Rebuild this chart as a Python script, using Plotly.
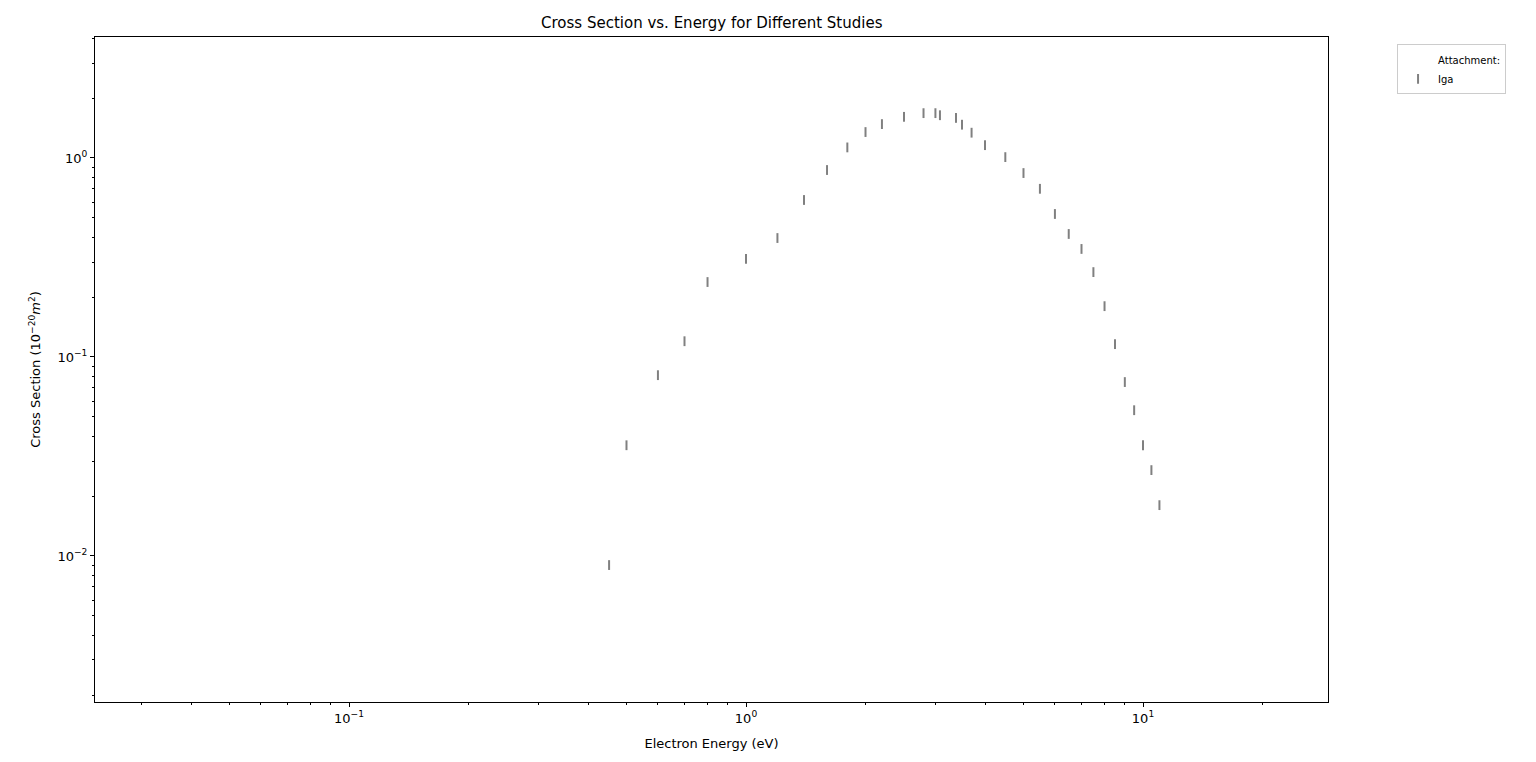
import plotly.graph_objects as go

# ----------------------------
# Dades (Iga, attachment)
# ----------------------------
energia = [0.452, 0.50, 0.60, 0.70, 0.80, 1.0, 1.2, 1.4, 1.6, 1.8, 2.0, 2.2, 2.5, 2.8,
           3.0, 3.08, 3.38, 3.5, 3.7, 4.0, 4.5, 5.0, 5.5, 6.0, 6.5, 7.0, 7.5, 8.0,
           8.5, 9.0, 9.5, 10.0, 10.5, 11.0]
seccio = [0.0090, 0.036, 0.081, 0.12, 0.238, 0.311, 0.396, 0.615, 0.87, 1.13, 1.35, 1.48,
          1.61, 1.68, 1.68, 1.64, 1.59, 1.47, 1.34, 1.16, 1.01, 0.84, 0.70, 0.523, 0.415,
          0.349, 0.267, 0.180, 0.116, 0.0748, 0.054, 0.036, 0.027, 0.018]

x_ticks = [0.1, 1, 10]
x_ticktext = ["10<sup>−1</sup>", "10<sup>0</sup>", "10<sup>1</sup>"]
y_ticks = [0.01, 0.1, 1]
y_ticktext = ["10<sup>−2</sup>", "10<sup>−1</sup>", "10<sup>0</sup>"]

x_minor = [m * 10 ** e for e in (-2, -1, 0, 1) for m in range(2, 10)]
y_minor = [m * 10 ** e for e in (-3, -2, -1, 0) for m in range(2, 10)]

fig = go.Figure()

# entrada de llegenda sense marcador
fig.add_trace(go.Scatter(x=[None], y=[None], mode="markers", name="Attachment:",
                         marker=dict(color="rgba(0,0,0,0)", size=1)))
fig.add_trace(go.Scatter(x=energia, y=seccio, mode="markers", name="Iga",
                         marker=dict(symbol="line-ns", size=7,
                                     line=dict(color="#808080", width=2))))

eix = dict(type="log", showline=True, linecolor="black", linewidth=1, mirror=True,
           ticks="outside", ticklen=4, tickcolor="black", showgrid=False, zeroline=False,
           automargin=False, tickfont=dict(size=13, color="black"))

fig.update_layout(
    width=1520, height=746,
    font=dict(family="DejaVu Sans", color="black"),
    paper_bgcolor="white", plot_bgcolor="white",
    margin=dict(l=87, r=200, t=29, b=52),
    title=dict(text="Cross Section vs. Energy for Different Studies", x=0.463, xanchor="center",
               y=0.980, yanchor="middle", font=dict(size=15)),
    xaxis=dict(eix, range=[-1.6398, 1.466], tickmode="array", tickvals=x_ticks,
               ticktext=x_ticktext,
               minor=dict(tickmode="array", tickvals=x_minor, ticks="outside", ticklen=2,
                          tickcolor="black", showgrid=False),
               title=dict(text="Electron Energy (eV)", font=dict(size=13), standoff=14)),
    yaxis=dict(eix, range=[-2.734, 0.608], tickmode="array", tickvals=y_ticks,
               ticktext=y_ticktext,
               minor=dict(tickmode="array", tickvals=y_minor, ticks="outside", ticklen=2,
                          tickcolor="black", showgrid=False),
               title=dict(text="Cross Section (10<sup>−20</sup><i>m</i><sup>2</sup>)",
                          font=dict(size=13), standoff=13)),
    legend=dict(x=1.056, y=0.989, xanchor="left", yanchor="top", bordercolor="#cccccc",
                borderwidth=1, font=dict(size=10), itemwidth=30, tracegroupgap=0),
)

fig.write_html("out.html")
